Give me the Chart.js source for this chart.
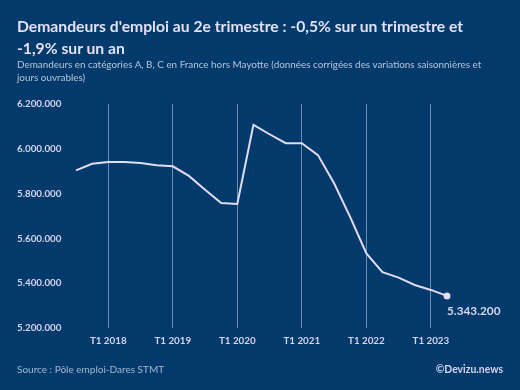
<!DOCTYPE html>
<html>
<head>
  <title>Demandeurs d'emploi</title>
  <script src="https://cdn.jsdelivr.net/npm/chart.js@4/dist/chart.umd.min.js"></script>
  <style>
    body { margin: 0; background: #023a6b; }
    .wrap { position: relative; width: 520px; height: 390px; background: #023a6b; overflow: hidden; font-family: Lato, sans-serif; }
    h1 { position: absolute; left: 17px; top: 15px; margin: 0; font-size: 15.7px; line-height: 22px; font-weight: 700; color: #e4e0f5; white-space: nowrap; }
    .sub { position: absolute; left: 17px; top: 58px; width: 478px; margin: 0; font-size: 9.9px; line-height: 13.4px; color: #b9c4da; }
    .src { position: absolute; left: 17px; top: 363px; font-size: 10px; color: #a9b7cf; }
    .brand { position: absolute; right: 17px; top: 363px; font-size: 10.4px; font-weight: 700; color: #d9d5f0; }
    canvas { position: absolute; left: 0; top: 0; }
  </style>
</head>
<body>
<div class="wrap">
  <canvas id="chart" width="520" height="390"></canvas>
  <h1>Demandeurs d'emploi au 2e trimestre : -0,5% sur un trimestre et<br>-1,9% sur un an</h1>
  <p class="sub">Demandeurs en catégories A, B, C en France hors Mayotte (données corrigées des variations saisonnières et jours ouvrables)</p>
  <div class="src">Source : Pôle emploi-Dares STMT</div>
  <div class="brand">©Devizu.news</div>
</div>
<script>
  // quarters from T3 2017 to T2 2023
  const quarters = ['T3 2017', 'T4 2017',
    'T1 2018', 'T2 2018', 'T3 2018', 'T4 2018',
    'T1 2019', 'T2 2019', 'T3 2019', 'T4 2019',
    'T1 2020', 'T2 2020', 'T3 2020', 'T4 2020',
    'T1 2021', 'T2 2021', 'T3 2021', 'T4 2021',
    'T1 2022', 'T2 2022', 'T3 2022', 'T4 2022',
    'T1 2023', 'T2 2023'];
  const demandeurs = [5904000, 5933000,
    5941000, 5941000, 5937000, 5927000,
    5922000, 5879000, 5817000, 5758000,
    5754000, 6107000, 6065000, 6025000,
    6025000, 5972000, 5846000, 5695000,
    5533000, 5449000, 5425000, 5392000,
    5370000, 5343200];
  const yTicks = [5200000, 5400000, 5600000, 5800000, 6000000, 6200000];
  const xTickLabels = ['T1 2018', 'T1 2019', 'T1 2020', 'T1 2021', 'T1 2022', 'T1 2023'];

  const lavender = '#e2dcf4';
  const fmt = v => Math.round(v).toString().replace(/\B(?=(\d{3})+(?!\d))/g, '.');

  const lastLabel = {
    id: 'lastLabel',
    afterDatasetsDraw(chart) {
      const meta = chart.getDatasetMeta(0);
      const pt = meta.data[meta.data.length - 1];
      const ctx = chart.ctx;
      ctx.save();
      ctx.font = 'bold 11.8px Lato';
      ctx.fillStyle = '#d9d5f0';
      ctx.textBaseline = 'middle';
      ctx.fillText(fmt(demandeurs[demandeurs.length - 1]), pt.x, pt.y + 15);
      ctx.restore();
    }
  };

  new Chart(document.getElementById('chart'), {
    type: 'line',
    data: {
      datasets: [{
        data: demandeurs.map((v, i) => ({ x: i, y: v })),
        borderColor: lavender,
        borderWidth: 2,
        tension: 0,
        clip: false,
        pointRadius: demandeurs.map((v, i) => i === demandeurs.length - 1 ? 3.5 : 0),
        pointBackgroundColor: lavender,
        pointBorderWidth: 0
      }]
    },
    options: {
      responsive: false,
      animation: false,
      layout: { padding: { top: 104, left: 17, right: 73, bottom: 38 } },
      plugins: { legend: { display: false }, tooltip: { enabled: false } },
      scales: {
        x: {
          type: 'linear',
          min: 0,
          max: quarters.length - 1,
          afterBuildTicks: s => { s.ticks = xTickLabels.map(l => ({ value: quarters.indexOf(l) })); },
          afterFit: s => { s.height = 24; },
          border: { display: false },
          grid: { color: 'rgba(200,210,235,0.55)', lineWidth: 1, drawTicks: false },
          ticks: {
            padding: 7,
            color: '#d9d5f0',
            font: { family: 'Lato', weight: 'bold', size: 9.8 },
            callback: v => quarters[v]
          }
        },
        y: {
          min: 5200000,
          max: 6200000,
          afterBuildTicks: s => { s.ticks = yTicks.map(v => ({ value: v })); },
          afterFit: s => { s.width = 59; },
          border: { display: false },
          grid: { display: false },
          ticks: {
            crossAlign: 'far',
            color: '#d9d5f0',
            font: { family: 'Lato', weight: 'bold', size: 9.8 },
            callback: v => fmt(v)
          }
        }
      }
    },
    plugins: [lastLabel]
  });
</script>
</body>
</html>
